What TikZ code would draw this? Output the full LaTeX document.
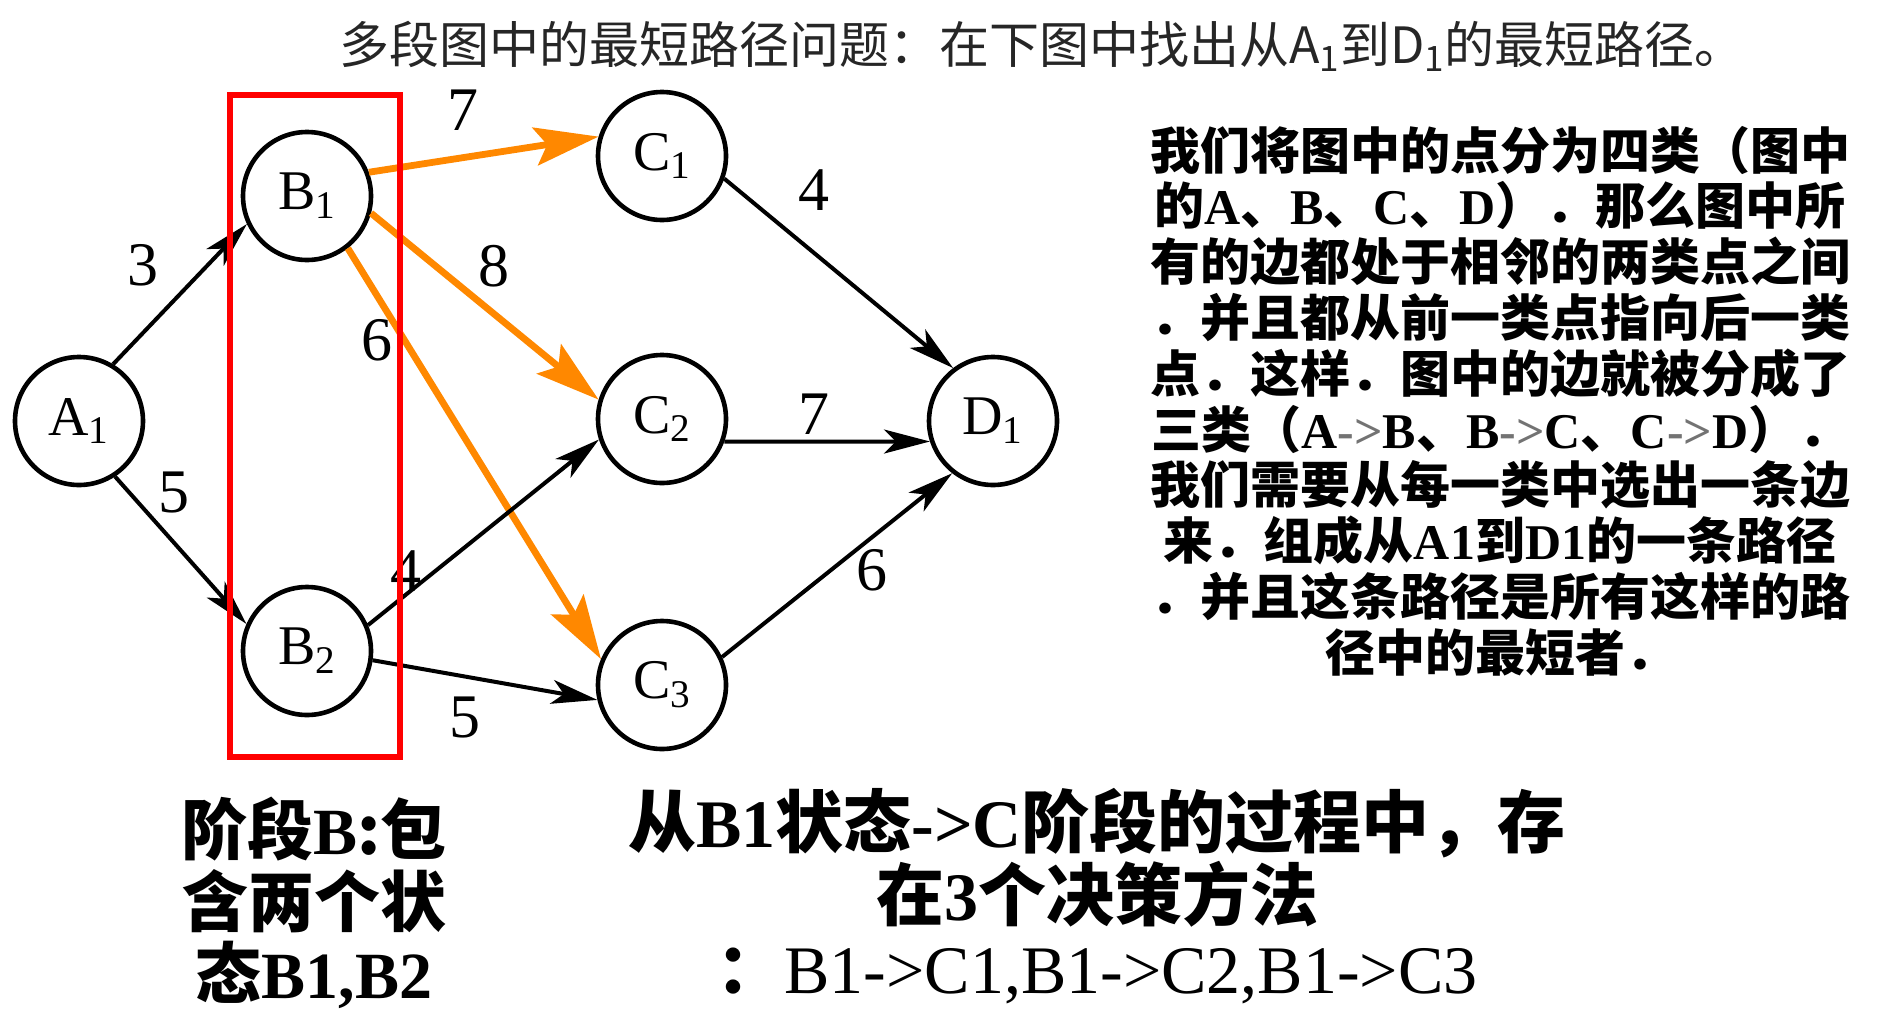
\documentclass[tikz,border=0pt]{standalone}
\usepackage{fontspec}
\setmainfont{Liberation Serif}
\newfontfamily\cjk{Noto Sans CJK SC}
\usepackage{tikz}
\usetikzlibrary{arrows.meta, positioning}
\definecolor{pickorange}{RGB}{255,136,0}
\newcommand\eng[1]{{\rmfamily #1}}

\begin{document}
\begin{tikzpicture}[
    x=0.5pt, y=-0.5pt,
    state/.style={circle, draw, line width=2.3pt, minimum size=64pt, inner sep=0pt, font=\fontsize{28}{28}\selectfont},
    link/.style={line width=2pt, -{Stealth[length=23pt, width=12pt, inset=6pt]}},
    pick/.style={draw=pickorange, line width=3.4pt, -{Stealth[length=32pt, width=19pt, inset=6pt]}, color=pickorange},
    weight/.style={font=\fontsize{31}{31}\selectfont},
]
\useasboundingbox (0,0) rectangle (1878,1012);

% Title
\node[font=\cjk\fontsize{25}{25}\selectfont, text=black!85] (title) at (1042,46) {多段图中的最短路径问题：在下图中找出从A\textsubscript{1}到D\textsubscript{1}的最短路径。};

% States of the four stages
\node[state] (A1) at (79,421) {A\textsubscript{1}};
\node[state] (B1) at (307,196) {B\textsubscript{1}};
\node[state] (B2) at (307,651) {B\textsubscript{2}};
\node[state] (C1) at (662,156) {C\textsubscript{1}};
\node[state] (C2) at (662,419) {C\textsubscript{2}};
\node[state] (C3) at (662,685) {C\textsubscript{3}};
\node[state] (D1) at (993,421) {D\textsubscript{1}};

% Edges A -> B -> C -> D
\draw[link] (A1.59) -- (B1.205);
\draw[link] (A1.-57) -- (B2.156);
\draw[pick] (B1.21) -- (C1.163);
\draw[pick] (B1.-15) -- (C2.163);
\draw[pick] (B1.-52) -- (C3.157);
\draw[link] (B2.23) -- (C2.198);
\draw[link] (B2.-8) -- (C3.193);
\draw[link] (C1.-20) -- (D1.127);
\draw[link] (C2.-20) -- (D1.198);
\draw[link] (C3.25) -- (D1.232);

% Weights
\node[weight] (wA1B1) at (143,265) {3};
\node[weight] (wA1B2) at (174,492) {5};
\node[weight] (wB1C1) at (463,110) {7};
\node[weight] (wB1C2) at (494,266) {8};
\node[weight] (wB1C3) at (377,340) {6};
\node[weight] (wB2C2) at (406,571) {4};
\node[weight] (wB2C3) at (465,717) {5};
\node[weight] (wC1D1) at (814,190) {4};
\node[weight] (wC2D1) at (814,414) {7};
\node[weight] (wC3D1) at (872,570) {6};

% Stage B box
\node[draw=red, line width=3pt, minimum width=85pt, minimum height=331pt, inner sep=0pt] (stageB) at (315,426) {};

% Notes
\node[font=\cjk\bfseries\fontsize{25}{27.9}\selectfont, align=center] (note) at (1500,401) {我们将图中的点分为四类（图中\\的\eng{A}、\eng{B}、\eng{C}、\eng{D}）．那么图中所\\有的边都处于相邻的两类点之间\\．并且都从前一类点指向后一类\\点．这样．图中的边就被分成了\\三类（\eng{A\textcolor{black!55}{->}B}、\eng{B\textcolor{black!55}{->}C}、\eng{C\textcolor{black!55}{->}D}）．\\我们需要从每一类中选出一条边\\来．组成从\eng{A1}到\eng{D1}的一条路径\\．并且这条路径是所有这样的路\\径中的最短者．};
\node[font=\cjk\bfseries\fontsize{33}{36}\selectfont, align=center] (stageBnote) at (314,903) {阶段\eng{B}:包\\含两个状\\态\eng{B1,B2}};
\node[font=\cjk\bfseries\fontsize{34}{36.5}\selectfont, align=center] (choice) at (1097,896) {从\eng{B1}状态\eng{->C}阶段的过程中，存\\在\eng{3}个决策方法\\：\eng{\mdseries B1->C1,B1->C2,B1->C3}};
\end{tikzpicture}
\end{document}
